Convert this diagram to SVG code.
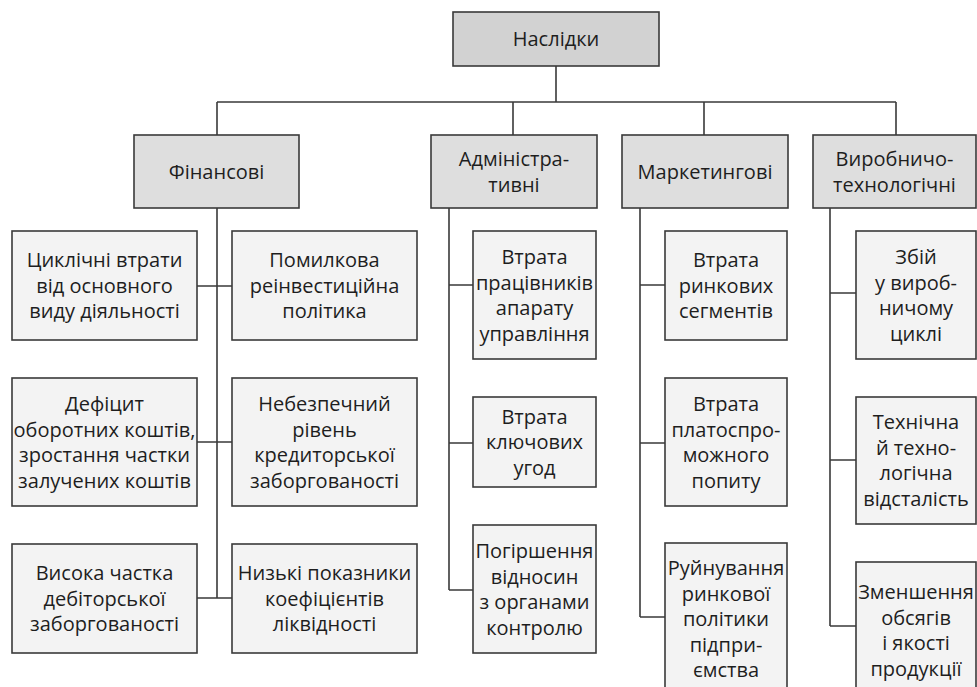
<svg xmlns="http://www.w3.org/2000/svg" width="977" height="687" viewBox="0 0 977 687">
  <style>
    .box { stroke: #3a3a3a; stroke-width: 1.6; }
    .root { fill: #d2d2d2; }
    .cat { fill: #dedede; }
    .leaf { fill: #f3f3f3; }
    .lbl { font-family: "Open Sans", "Noto Sans", "DejaVu Sans", sans-serif; font-size: 20px; fill: #1e1e1e; text-anchor: middle; }
    .wire { fill: none; stroke: #3a3a3a; stroke-width: 1.6; }
  </style>
  <rect width="977" height="687" fill="#ffffff"/>

  <!-- connectors -->
  <g id="connectors" class="wire">
    <path d="M556 66 V102 M217 102 H896 M217 102 V135 M513 102 V135 M704 102 V135 M896 102 V135"/>
    <path d="M217 208 V598 M197 286 H232 M197 442 H232 M197 598 H232"/>
    <path d="M449 208 V590 M449 285 H473 M449 443 H473 M449 590 H473"/>
    <path d="M640 208 V617 M640 285 H665 M640 443 H665 M640 617 H665"/>
    <path d="M830 208 V626 M830 293 H856 M830 460 H856 M830 626 H856"/>
  </g>

  <!-- root -->
  <g id="n-root">
    <rect class="box root" x="453" y="12" width="206" height="54"/>
    <text class="lbl" x="556" y="46">Наслідки</text>
  </g>

  <!-- categories -->
  <g id="n-fin">
    <rect class="box cat" x="134" y="135" width="165" height="73"/>
    <text class="lbl" x="216.5" y="178.5">Фінансові</text>
  </g>
  <g id="n-adm">
    <rect class="box cat" x="431" y="135" width="166" height="73"/>
    <text class="lbl" x="514" y="165.5">Адміністра-<tspan x="514" dy="26">тивні</tspan></text>
  </g>
  <g id="n-mkt">
    <rect class="box cat" x="622" y="135" width="166" height="73"/>
    <text class="lbl" x="705" y="178.5">Маркетингові</text>
  </g>
  <g id="n-prod">
    <rect class="box cat" x="813" y="135" width="163" height="73"/>
    <text class="lbl" x="894.5" y="165.5">Виробничо-<tspan x="894.5" dy="26">технологічні</tspan></text>
  </g>

  <!-- financial consequences -->
  <g id="n-fin-1">
    <rect class="box leaf" x="12" y="231" width="185" height="109"/>
    <text class="lbl" x="104.5" y="267">Циклічні втрати<tspan x="104.5" dy="25.5">від основного</tspan><tspan x="104.5" dy="25.5">виду діяльності</tspan></text>
  </g>
  <g id="n-fin-2">
    <rect class="box leaf" x="232" y="231" width="185" height="109"/>
    <text class="lbl" x="324.5" y="267">Помилкова<tspan x="324.5" dy="25.5">реінвестиційна</tspan><tspan x="324.5" dy="25.5">політика</tspan></text>
  </g>
  <g id="n-fin-3">
    <rect class="box leaf" x="12" y="378" width="185" height="128"/>
    <text class="lbl" x="104.5" y="411">Дефіцит<tspan x="104.5" dy="25.5">оборотних коштів,</tspan><tspan x="104.5" dy="25.5">зростання частки</tspan><tspan x="104.5" dy="25.5">залучених коштів</tspan></text>
  </g>
  <g id="n-fin-4">
    <rect class="box leaf" x="232" y="378" width="185" height="128"/>
    <text class="lbl" x="324.5" y="411">Небезпечний<tspan x="324.5" dy="25.5">рівень</tspan><tspan x="324.5" dy="25.5">кредиторської</tspan><tspan x="324.5" dy="25.5">заборгованості</tspan></text>
  </g>
  <g id="n-fin-5">
    <rect class="box leaf" x="12" y="544" width="185" height="109"/>
    <text class="lbl" x="104.5" y="580">Висока частка<tspan x="104.5" dy="25.5">дебіторської</tspan><tspan x="104.5" dy="25.5">заборгованості</tspan></text>
  </g>
  <g id="n-fin-6">
    <rect class="box leaf" x="232" y="544" width="185" height="109"/>
    <text class="lbl" x="324.5" y="580">Низькі показники<tspan x="324.5" dy="25.5">коефіцієнтів</tspan><tspan x="324.5" dy="25.5">ліквідності</tspan></text>
  </g>

  <!-- administrative consequences -->
  <g id="n-adm-1">
    <rect class="box leaf" x="473" y="231" width="123" height="128"/>
    <text class="lbl" x="534.5" y="264">Втрата<tspan x="534.5" dy="25.5">працівників</tspan><tspan x="534.5" dy="25.5">апарату</tspan><tspan x="534.5" dy="25.5">управління</tspan></text>
  </g>
  <g id="n-adm-2">
    <rect class="box leaf" x="473" y="397" width="123" height="90"/>
    <text class="lbl" x="534.5" y="423.5">Втрата<tspan x="534.5" dy="25.5">ключових</tspan><tspan x="534.5" dy="25.5">угод</tspan></text>
  </g>
  <g id="n-adm-3">
    <rect class="box leaf" x="473" y="525" width="123" height="128"/>
    <text class="lbl" x="534.5" y="558">Погіршення<tspan x="534.5" dy="25.5">відносин</tspan><tspan x="534.5" dy="25.5">з органами</tspan><tspan x="534.5" dy="25.5">контролю</tspan></text>
  </g>

  <!-- marketing consequences -->
  <g id="n-mkt-1">
    <rect class="box leaf" x="665" y="231" width="122" height="109"/>
    <text class="lbl" x="726" y="267">Втрата<tspan x="726" dy="25.5">ринкових</tspan><tspan x="726" dy="25.5">сегментів</tspan></text>
  </g>
  <g id="n-mkt-2">
    <rect class="box leaf" x="665" y="378" width="122" height="128"/>
    <text class="lbl" x="726" y="411">Втрата<tspan x="726" dy="25.5">платоспро-</tspan><tspan x="726" dy="25.5">можного</tspan><tspan x="726" dy="25.5">попиту</tspan></text>
  </g>
  <g id="n-mkt-3">
    <rect class="box leaf" x="665" y="543" width="122" height="156"/>
    <text class="lbl" x="726" y="575">Руйнування<tspan x="726" dy="25.5">ринкової</tspan><tspan x="726" dy="25.5">політики</tspan><tspan x="726" dy="25.5">підпри-</tspan><tspan x="726" dy="25.5">ємства</tspan></text>
  </g>

  <!-- production and technology consequences -->
  <g id="n-prod-1">
    <rect class="box leaf" x="856" y="231" width="120" height="128"/>
    <text class="lbl" x="916" y="264">Збій<tspan x="916" dy="25.5">у вироб-</tspan><tspan x="916" dy="25.5">ничому</tspan><tspan x="916" dy="25.5">циклі</tspan></text>
  </g>
  <g id="n-prod-2">
    <rect class="box leaf" x="856" y="397" width="120" height="127"/>
    <text class="lbl" x="916" y="429">Технічна<tspan x="916" dy="25.5">й техно-</tspan><tspan x="916" dy="25.5">логічна</tspan><tspan x="916" dy="25.5">відсталість</tspan></text>
  </g>
  <g id="n-prod-3">
    <rect class="box leaf" x="856" y="562" width="120" height="137"/>
    <text class="lbl" x="916" y="599">Зменшення<tspan x="916" dy="25.5">обсягів</tspan><tspan x="916" dy="25.5">і якості</tspan><tspan x="916" dy="25.5">продукції</tspan></text>
  </g>
</svg>
